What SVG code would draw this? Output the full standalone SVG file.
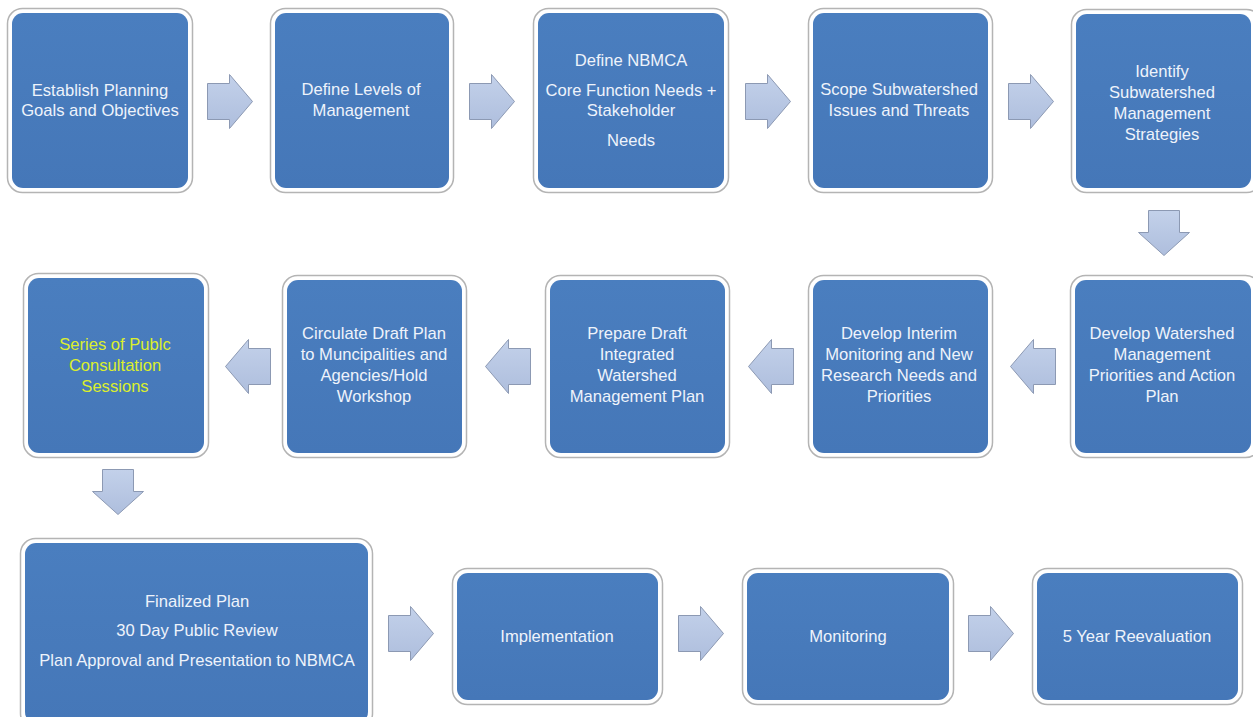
<svg xmlns="http://www.w3.org/2000/svg" width="1253" height="717" viewBox="0 0 1253 717">
<style>
.outer{fill:#ffffff;stroke:#b4b4b4;stroke-width:1.5}
.inner{fill:url(#blue)}
.t{font-family:"Liberation Sans",Arial,sans-serif;font-size:16.6px;fill:#eef3fb;text-anchor:middle}
.y{fill:#dcef2c}
.arr{fill:url(#arrg);stroke:#8c99b3;stroke-width:1}
</style>
<defs>
<linearGradient id="blue" x1="0" y1="0" x2="0" y2="1">
<stop offset="0" stop-color="#4a7ebf"/>
<stop offset="1" stop-color="#4577b8"/>
</linearGradient>
<linearGradient id="arrg" x1="0" y1="0" x2="0" y2="1">
<stop offset="0" stop-color="#c3d1ea"/>
<stop offset="1" stop-color="#aebedd"/>
</linearGradient>
<path id="ra" d="M0,9 H22 V0 L45,27 L22,54 V45 H0 Z"/>
<path id="la" d="M45,9 H23 V0 L0,27 L23,54 V45 H45 Z"/>
<path id="da" d="M10,0 H41 V22 H51 L25.5,45 L0,22 H10 Z"/>
</defs>
<rect width="1253" height="717" fill="#ffffff"/>

<g id="n1"><rect class="outer" x="7.5" y="8.5" width="185" height="184" rx="15"/><rect class="inner" x="12" y="13" width="176" height="175" rx="11"/>
<text class="t" x="100" y="96">Establish Planning</text><text class="t" x="100" y="116">Goals and Objectives</text></g>
<g id="n2"><rect class="outer" x="270.5" y="8.5" width="183" height="184" rx="15"/><rect class="inner" x="275" y="13" width="174" height="175" rx="11"/>
<text class="t" x="361" y="95">Define Levels of</text><text class="t" x="361" y="116">Management</text></g>
<g id="n3"><rect class="outer" x="533.5" y="8.5" width="195" height="184" rx="15"/><rect class="inner" x="538" y="13" width="186" height="175" rx="11"/>
<text class="t" x="631" y="66">Define NBMCA</text><text class="t" x="631" y="96">Core Function Needs +</text><text class="t" x="631" y="116">Stakeholder</text><text class="t" x="631" y="146">Needs</text></g>
<g id="n4"><rect class="outer" x="808.5" y="8.5" width="184" height="184" rx="15"/><rect class="inner" x="813" y="13" width="175" height="175" rx="11"/>
<text class="t" x="899" y="95">Scope Subwatershed</text><text class="t" x="899" y="116">Issues and Threats</text></g>
<g id="n5"><rect class="outer" x="1071.5" y="9.5" width="190" height="183" rx="15"/><rect class="inner" x="1076" y="14" width="175" height="174" rx="11"/>
<text class="t" x="1162" y="77">Identify</text><text class="t" x="1162" y="98">Subwatershed</text><text class="t" x="1162" y="119">Management</text><text class="t" x="1162" y="140">Strategies</text></g>

<g id="n6"><rect class="outer" x="1070.5" y="275.5" width="190" height="182" rx="15"/><rect class="inner" x="1075" y="280" width="176" height="173" rx="11"/>
<text class="t" x="1162" y="339">Develop Watershed</text><text class="t" x="1162" y="360">Management</text><text class="t" x="1162" y="381">Priorities and Action</text><text class="t" x="1162" y="402">Plan</text></g>
<g id="n7"><rect class="outer" x="808.5" y="275.5" width="184" height="182" rx="15"/><rect class="inner" x="813" y="280" width="175" height="173" rx="11"/>
<text class="t" x="899" y="339">Develop Interim</text><text class="t" x="899" y="360">Monitoring and New</text><text class="t" x="899" y="381">Research Needs and</text><text class="t" x="899" y="402">Priorities</text></g>
<g id="n8"><rect class="outer" x="545.5" y="275.5" width="184" height="182" rx="15"/><rect class="inner" x="550" y="280" width="175" height="173" rx="11"/>
<text class="t" x="637" y="339">Prepare Draft</text><text class="t" x="637" y="360">Integrated</text><text class="t" x="637" y="381">Watershed</text><text class="t" x="637" y="402">Management Plan</text></g>
<g id="n9"><rect class="outer" x="282.5" y="275.5" width="184" height="182" rx="15"/><rect class="inner" x="287" y="280" width="175" height="173" rx="11"/>
<text class="t" x="374" y="339">Circulate Draft Plan</text><text class="t" x="374" y="360">to Muncipalities and</text><text class="t" x="374" y="381">Agencies/Hold</text><text class="t" x="374" y="402">Workshop</text></g>
<g id="n10"><rect class="outer" x="23.5" y="273.5" width="185" height="184" rx="15"/><rect class="inner" x="28" y="278" width="176" height="175" rx="11"/>
<text class="t y" x="115" y="350">Series of Publc</text><text class="t y" x="115" y="371">Consultation</text><text class="t y" x="115" y="392">Sessions</text></g>

<g id="n11"><rect class="outer" x="20.5" y="538.5" width="352" height="190" rx="15"/><rect class="inner" x="25" y="543" width="343" height="180" rx="11"/>
<text class="t" x="197" y="607">Finalized Plan</text><text class="t" x="197" y="636">30 Day Public Review</text><text class="t" x="197" y="666">Plan Approval and Presentation to NBMCA</text></g>
<g id="n12"><rect class="outer" x="452.5" y="568.5" width="210" height="136" rx="15"/><rect class="inner" x="457" y="573" width="201" height="127" rx="11"/>
<text class="t" x="557" y="642">Implementation</text></g>
<g id="n13"><rect class="outer" x="742.5" y="568.5" width="211" height="136" rx="15"/><rect class="inner" x="747" y="573" width="202" height="127" rx="11"/>
<text class="t" x="848" y="642">Monitoring</text></g>
<g id="n14"><rect class="outer" x="1032.5" y="568.5" width="210" height="136" rx="15"/><rect class="inner" x="1037" y="573" width="201" height="127" rx="11"/>
<text class="t" x="1137" y="642">5 Year Reevaluation</text></g>

<g id="connectors">
<use href="#ra" class="arr" x="207.5" y="74.5"/>
<use href="#ra" class="arr" x="469.5" y="74.5"/>
<use href="#ra" class="arr" x="745.5" y="74.5"/>
<use href="#ra" class="arr" x="1008.5" y="74.5"/>
<use href="#da" class="arr" x="1138.5" y="210.5"/>
<use href="#la" class="arr" x="1010.5" y="339.5"/>
<use href="#la" class="arr" x="748.5" y="339.5"/>
<use href="#la" class="arr" x="485.5" y="339.5"/>
<use href="#la" class="arr" x="225.5" y="339.5"/>
<use href="#da" class="arr" x="92.5" y="469.5"/>
<use href="#ra" class="arr" x="388.5" y="606.5"/>
<use href="#ra" class="arr" x="678.5" y="606.5"/>
<use href="#ra" class="arr" x="968.5" y="606.5"/>
</g>
</svg>
